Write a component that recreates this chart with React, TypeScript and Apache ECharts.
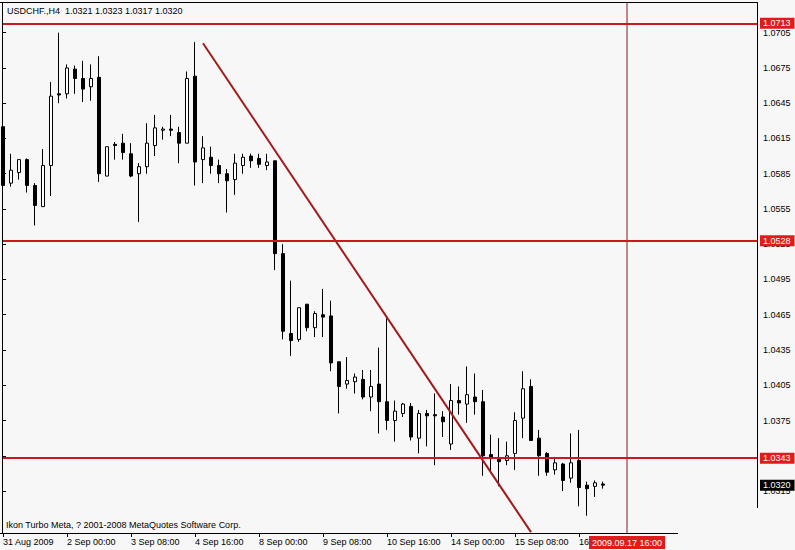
import React, { useEffect, useRef } from 'react';
import * as echarts from 'echarts';

// USDCHF H4 bars, 31 Aug 2009 16:00 .. 17 Sep 2009 04:00
const symbol = 'USDCHF.';
const period = 'H4';

const opens = [
  1.0625, 1.0577, 1.0586, 1.0597, 1.0575, 1.0557, 1.0592, 1.0653, 1.0653, 1.0674,
  1.0666, 1.0659, 1.0667, 1.0583, 1.0610, 1.0611, 1.0602, 1.0585, 1.0591, 1.0609,
  1.0622, 1.0623, 1.0620, 1.0611, 1.0668, 1.0597, 1.0599, 1.0592, 1.0585, 1.0580,
  1.0592, 1.0600, 1.0598, 1.0592, 1.0596, 1.0517, 1.0449, 1.0444, 1.0474, 1.0454,
  1.0465, 1.0464, 1.0425, 1.0406, 1.0408, 1.0410, 1.0395, 1.0406, 1.0391, 1.0375,
  1.0381, 1.0387, 1.0360, 1.0381, 1.0380, 1.0378, 1.0355, 1.0392, 1.0389, 1.0395,
  1.0391, 1.0346, 1.0343, 1.0341, 1.0347, 1.0377, 1.0404, 1.0360, 1.0347, 1.0333,
  1.0338, 1.0326, 1.0341, 1.0320, 1.0319, 1.0321,
];
const highs = [
  1.0630, 1.0602, 1.0597, 1.0598, 1.0577, 1.0606, 1.0663, 1.0705, 1.0678, 1.0677,
  1.0681, 1.0678, 1.0685, 1.0608, 1.0612, 1.0619, 1.0611, 1.0594, 1.0628, 1.0635,
  1.0625, 1.0635, 1.0625, 1.0672, 1.0697, 1.0617, 1.0608, 1.0597, 1.0589, 1.0602,
  1.0602, 1.0602, 1.0602, 1.0602, 1.0596, 1.0525, 1.0494, 1.0471, 1.0474, 1.0468,
  1.0487, 1.0477, 1.0425, 1.0429, 1.0415, 1.0418, 1.0418, 1.0437, 1.0463, 1.0392,
  1.0390, 1.0390, 1.0384, 1.0384, 1.0398, 1.0383, 1.0406, 1.0404, 1.0421, 1.0415,
  1.0401, 1.0363, 1.0360, 1.0357, 1.0382, 1.0417, 1.0410, 1.0367, 1.0348, 1.0344,
  1.0339, 1.0364, 1.0367, 1.0323, 1.0324, 1.0323,
];
const lows = [
  1.0554, 1.0574, 1.0580, 1.0569, 1.0541, 1.0557, 1.0566, 1.0645, 1.0649, 1.0653,
  1.0646, 1.0647, 1.0578, 1.0583, 1.0597, 1.0597, 1.0582, 1.0544, 1.0585, 1.0600,
  1.0614, 1.0617, 1.0594, 1.0611, 1.0575, 1.0577, 1.0585, 1.0577, 1.0552, 1.0567,
  1.0585, 1.0590, 1.0590, 1.0588, 1.0503, 1.0444, 1.0430, 1.0442, 1.0451, 1.0446,
  1.0446, 1.0417, 1.0381, 1.0402, 1.0398, 1.0393, 1.0383, 1.0364, 1.0367, 1.0357,
  1.0378, 1.0358, 1.0347, 1.0353, 1.0337, 1.0361, 1.0350, 1.0380, 1.0373, 1.0380,
  1.0328, 1.0331, 1.0319, 1.0337, 1.0333, 1.0360, 1.0358, 1.0328, 1.0328, 1.0329,
  1.0315, 1.0322, 1.0302, 1.0294, 1.0310, 1.0317,
];
const closes = [
  1.0575, 1.0588, 1.0597, 1.0575, 1.0558, 1.0592, 1.0651, 1.0652, 1.0675, 1.0666,
  1.0657, 1.0666, 1.0585, 1.0608, 1.0609, 1.0603, 1.0583, 1.0591, 1.0611, 1.0624,
  1.0623, 1.0622, 1.0611, 1.0666, 1.0595, 1.0607, 1.0592, 1.0585, 1.0579, 1.0594,
  1.0599, 1.0596, 1.0593, 1.0595, 1.0517, 1.0451, 1.0443, 1.0471, 1.0454, 1.0466,
  1.0463, 1.0424, 1.0404, 1.0409, 1.0412, 1.0395, 1.0404, 1.0391, 1.0375, 1.0383,
  1.0389, 1.0361, 1.0381, 1.0379, 1.0379, 1.0374, 1.0392, 1.0390, 1.0397, 1.0391,
  1.0345, 1.0343, 1.0340, 1.0345, 1.0375, 1.0402, 1.0358, 1.0345, 1.0331, 1.0339,
  1.0324, 1.0339, 1.0318, 1.0317, 1.0322, 1.0320,
];

// Time scale labels, one every 8 bars
const dateTickBars = [0, 8, 16, 24, 32, 40, 48, 56, 64, 72];
const dateTickLabels = [
  '31 Aug 2009', '2 Sep 00:00', '3 Sep 08:00', '4 Sep 16:00', '8 Sep 00:00',
  '9 Sep 08:00', '10 Sep 16:00', '14 Sep 00:00', '15 Sep 08:00', '16 Sep 16:00',
];

// Price scale labels
const priceTicks = [
  1.0315, 1.0345, 1.0375, 1.0405, 1.0435, 1.0465, 1.0495,
  1.0525, 1.0555, 1.0585, 1.0615, 1.0645, 1.0675, 1.0705,
];

// Horizontal levels, trend line and vertical time cursor
const levels = [1.0713, 1.0528, 1.0343];
const trendLine = [
  [25, 1.0696],
  [66, 1.028],
];
const cursorBar = 78;
const cursorLabel = '2009.09.17 16:00';

const priceMin = 1.027929;
const priceMax = 1.073112;
const barMin = -0.125;
const barMax = 94.25;

const FONT = '"Liberation Sans", Arial, sans-serif';
const LEVEL_RED = '#c8191e';
const BOX_RED = '#e01b1b';
const CURSOR_RED = '#8e1424';

export default function App() {
  const ref = useRef<HTMLDivElement>(null);

  useEffect(() => {
    if (!ref.current) return;
    const chart = echarts.init(ref.current, undefined, { renderer: 'svg' });
    const last = closes.length - 1;
    const title = `${symbol},${period}  ${opens[last].toFixed(4)} ${highs[last].toFixed(4)} ${lows[last].toFixed(4)} ${closes[last].toFixed(4)}`;

    const boxLabel = (bg: string) => ({
      show: true,
      position: 'end' as const,
      distance: 3,
      formatter: (p: any) => Number(p.value).toFixed(4),
      backgroundColor: bg,
      color: '#ffffff',
      fontSize: 9,
      fontFamily: FONT,
      padding: [1, 4, 0, 3],
      lineHeight: 10,
    });

    const option: any = {
      animation: false,
      backgroundColor: '#f7f7f7',
      grid: { left: 2, top: 2, width: 755, height: 531 },
      xAxis: {
        type: 'value',
        min: barMin,
        max: barMax,
        axisLine: { show: false },
        splitLine: { show: false },
        axisTick: {
          show: true,
          customValues: dateTickBars,
          length: 4,
          lineStyle: { color: '#000' },
        },
        axisLabel: {
          customValues: dateTickBars,
          formatter: (v: number) => dateTickLabels[dateTickBars.indexOf(Math.round(v))] ?? '',
          align: 'left',
          margin: 4,
          color: '#000',
          fontSize: 9,
          fontFamily: FONT,
        },
      },
      yAxis: {
        type: 'value',
        position: 'right',
        min: priceMin,
        max: priceMax,
        axisLine: { show: false },
        splitLine: { show: false },
        axisTick: {
          show: true,
          customValues: priceTicks,
          length: 3,
          lineStyle: { color: '#000' },
        },
        axisLabel: {
          customValues: priceTicks,
          formatter: (v: number) => v.toFixed(4),
          margin: 6,
          color: '#000',
          fontSize: 9,
          fontFamily: FONT,
        },
      },
      series: [
        {
          type: 'candlestick',
          data: opens.map((o, i) => [i, o, closes[i], lows[i], highs[i]]),
          encode: { x: 0, y: [1, 2, 3, 4] },
          barWidth: 4,
          clip: true,
          itemStyle: {
            color: '#ffffff',
            color0: '#000000',
            borderColor: '#000000',
            borderColor0: '#000000',
            borderColorDoji: '#000000',
            borderWidth: 1,
          },
          markLine: {
            silent: true,
            symbol: 'none',
            precision: 4,
            animation: false,
            lineStyle: { color: LEVEL_RED, width: 2, type: 'solid' },
            data: levels.map((lv) => ({ yAxis: lv, label: boxLabel(BOX_RED) })),
          },
        },
        {
          type: 'line',
          data: trendLine,
          symbol: 'none',
          clip: true,
          z: 4,
          color: '#a01c1c',
          lineStyle: { color: '#a01c1c', width: 2 },
        },
        {
          // vertical time cursor, with its date tag on the time scale
          type: 'line',
          data: [
            [cursorBar, priceMin],
            [cursorBar, priceMax],
          ],
          symbol: 'none',
          clip: true,
          z: 3,
          color: CURSOR_RED,
          lineStyle: { color: CURSOR_RED, width: 1 },
          markLine: {
            silent: true,
            symbol: 'none',
            precision: 4,
            animation: false,
            lineStyle: { color: 'rgba(0,0,0,0)', width: 1, type: 'solid' },
            data: [
              {
                xAxis: cursorBar,
                label: {
                  show: true,
                  position: 'start',
                  distance: 3,
                  formatter: cursorLabel,
                  backgroundColor: BOX_RED,
                  color: '#ffffff',
                  fontSize: 9,
                  fontFamily: FONT,
                  padding: [2, 3, 1, 3],
                  lineHeight: 10,
                },
              },
            ],
          },
        },
        {
          // current bid price tag on the price scale
          type: 'line',
          data: [[last, closes[last]]],
          symbol: 'none',
          lineStyle: { width: 0 },
          markLine: {
            silent: true,
            symbol: 'none',
            precision: 4,
            animation: false,
            lineStyle: { color: 'rgba(0,0,0,0)', width: 1, type: 'solid' },
            data: [{ yAxis: closes[last], label: boxLabel('#000000') }],
          },
        },
      ],
      graphic: [
        { type: 'line', shape: { x1: 0, y1: 2.5, x2: 757.5, y2: 2.5 }, style: { stroke: '#000', lineWidth: 1 }, z: 10 },
        { type: 'line', shape: { x1: 2.5, y1: 2, x2: 2.5, y2: 533.5 }, style: { stroke: '#000', lineWidth: 1 }, z: 10 },
        { type: 'line', shape: { x1: 757.5, y1: 2, x2: 757.5, y2: 508 }, style: { stroke: '#000', lineWidth: 1 }, z: 10 },
        { type: 'line', shape: { x1: 0, y1: 533.5, x2: 678, y2: 533.5 }, style: { stroke: '#000', lineWidth: 1 }, z: 10 },
        {
          type: 'text',
          x: 7,
          y: 11,
          z: 10,
          style: { text: title, fill: '#000', fontSize: 9, fontFamily: FONT, verticalAlign: 'middle' },
        },
        {
          type: 'text',
          x: 6,
          y: 525,
          z: 10,
          style: {
            text: 'Ikon Turbo Meta, ? 2001-2008 MetaQuotes Software Corp.',
            fill: '#000',
            fontSize: 9,
            fontFamily: FONT,
            verticalAlign: 'middle',
          },
        },
      ],
    };

    chart.setOption(option);
    return () => chart.dispose();
  }, []);

  return (
    <div
      ref={ref}
      style={{ position: 'absolute', left: 0, top: 0, width: 795, height: 550 }}
    />
  );
}
